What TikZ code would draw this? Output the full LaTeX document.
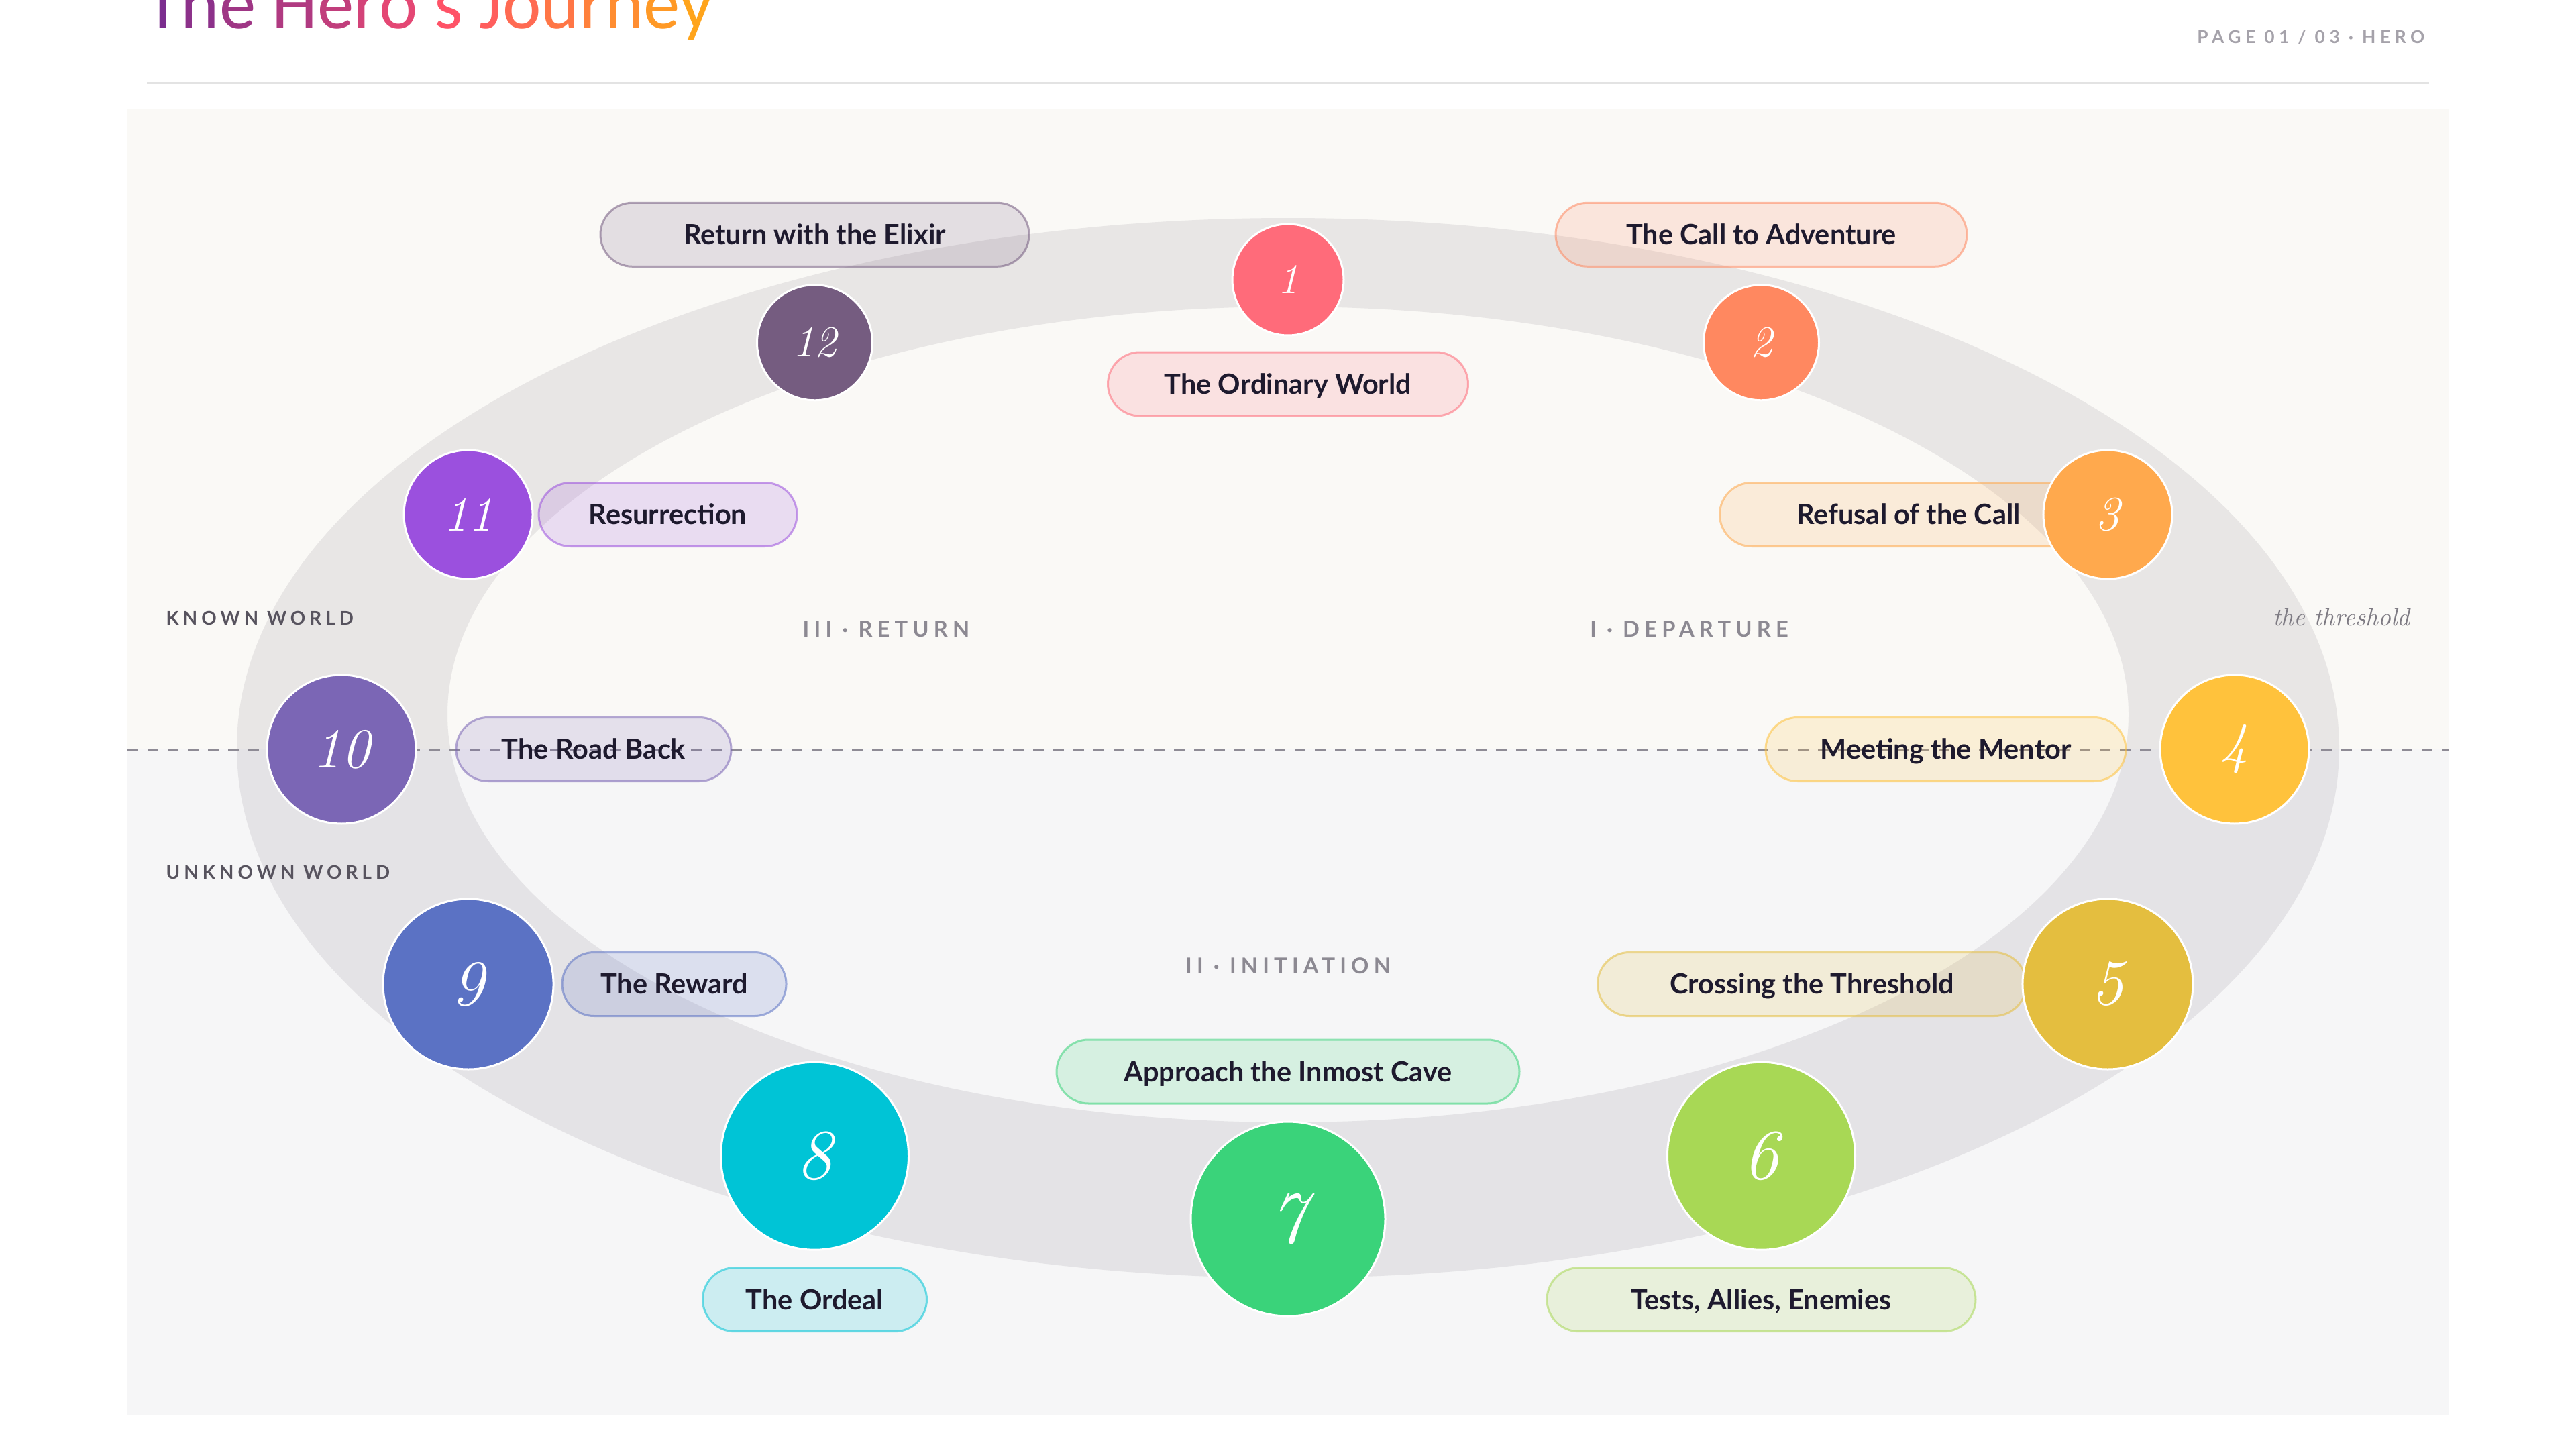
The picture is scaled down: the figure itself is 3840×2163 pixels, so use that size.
\documentclass[tikz,border=0pt]{standalone}
\usepackage{fontspec}
\usepackage{xcolor}
\usepackage{tikz}
\usetikzlibrary{
  positioning,
  calc
}
\newfontfamily\labelfont{Lato}
\newfontfamily\capsfont[LetterSpace=22]{Lato}
\newfontfamily\pagefont[LetterSpace=25]{Lato}
\newfontfamily\titlefont{Carlito}
\definecolor{hjInk}{HTML}{1E1A2E}
\definecolor{hjPaper}{HTML}{FAF9F6}
\definecolor{hjPaperLow}{HTML}{F6F6F7}
\definecolor{hjRule}{HTML}{E3E3E3}
\definecolor{hjDash}{HTML}{8E8B95}
\definecolor{hjMute}{HTML}{57535E}
\definecolor{hjSoft}{HTML}{8C8992}
\definecolor{hjPage}{HTML}{A5A2AA}
\definecolor{hjTrack}{HTML}{2A1E32}
\definecolor{hjPurple}{HTML}{7B2D8E}
\definecolor{hjPink}{HTML}{FF4D6D}
\definecolor{hjAmber}{HTML}{FFA41B}
\definecolor{hjOrdinary}{HTML}{FF6B7A}
\definecolor{hjCall}{HTML}{FF8860}
\definecolor{hjRefusal}{HTML}{FFA94D}
\definecolor{hjMentor}{HTML}{FFC23C}
\definecolor{hjThreshold}{HTML}{E4BE3F}
\definecolor{hjTests}{HTML}{A8D855}
\definecolor{hjCave}{HTML}{3AD37A}
\definecolor{hjOrdeal}{HTML}{00C4D6}
\definecolor{hjReward}{HTML}{5B72C4}
\definecolor{hjRoad}{HTML}{7B66B5}
\definecolor{hjResurrect}{HTML}{9B50DE}
\definecolor{hjElixir}{HTML}{755C80}
\pgfdeclarelayer{back}
\pgfdeclarelayer{pills}
\pgfsetlayers{back,pills,main}
\newcommand{\hjch}[2]{{\color{#1}#2}}
\tikzset{
  stage/.style={
    circle, draw=white, line width=0.3mm, inner sep=0pt, outer sep=0pt,
    text=white
  },
  pill/.style 2 args={
    draw=#1, draw opacity=0.55, fill=#1, fill opacity=0.17, text opacity=1,
    line width=0.3mm, rounded corners=4.75mm, minimum height=9.5mm,
    minimum width=#2, inner sep=0pt, outer sep=0pt, text=hjInk,
    text height=8.5pt, text depth=0pt,
    font=\labelfont\bfseries\fontsize{11.8pt}{11.8pt}\selectfont
  },
  track/.style={fill=hjTrack, fill opacity=0.085},
  divider/.style={hjDash, line width=0.3mm, dash pattern=on 1.6mm off 1.4mm},
  world/.style={font=\capsfont\bfseries\fontsize{7.9pt}{7.9pt}\selectfont, text=hjMute, anchor=west, inner sep=0pt},
  phase/.style={font=\capsfont\bfseries\fontsize{9.3pt}{9.3pt}\selectfont, text=hjSoft, inner sep=0pt},
  note/.style={font=\itshape\fontsize{10.5pt}{10.5pt}\selectfont, text=hjSoft!90!black, inner sep=0pt}
}
\begin{document}
\begin{tikzpicture}[x=0.1mm, y=-0.1mm]
  \useasboundingbox (0,0) rectangle (3840,2163);
  % header
  \begin{scope}
    \clip (0,0) rectangle (3840,2163);
    \node[anchor=base west, inner sep=0pt, font=\titlefont\fontsize{31pt}{31pt}\selectfont] (title) at (216,42)
      {\hjch{hjPurple}{T}\hjch{hjPink!13!hjPurple}{h}\hjch{hjPink!27!hjPurple}{e} \hjch{hjPink!40!hjPurple}{H}\hjch{hjPink!53!hjPurple}{e}\hjch{hjPink!67!hjPurple}{r}\hjch{hjPink!80!hjPurple}{o}\hjch{hjPink!93!hjPurple}{'}\hjch{hjAmber!7!hjPink}{s} \hjch{hjAmber!20!hjPink}{J}\hjch{hjAmber!33!hjPink}{o}\hjch{hjAmber!47!hjPink}{u}\hjch{hjAmber!60!hjPink}{r}\hjch{hjAmber!73!hjPink}{n}\hjch{hjAmber!87!hjPink}{e}\hjch{hjAmber}{y}};
  \end{scope}
  \node[anchor=base east, inner sep=0pt, text=hjPage, font=\pagefont\bfseries\fontsize{7.5pt}{7.5pt}\selectfont] (page) at (3615,64) {PAGE 01 / 03 · HERO};
  \coordinate (ruleL) at (219,123);
  \coordinate (ruleR) at (3621,123);
  \draw[hjRule, line width=0.3mm] (ruleL) -- (ruleR);

  % panel, track and threshold
  \begin{pgfonlayer}{back}
    \fill[hjPaper] (190,162) rectangle (3651,1117);
    \fill[hjPaperLow] (190,1117) rectangle (3651,2109);
    \fill[track, even odd rule] (1920,1115) ellipse [x radius=1567, y radius=790]
      (1920,1065) ellipse [x radius=1253, y radius=608];
    \coordinate (thrL) at (190,1117);
    \coordinate (thrR) at (3651,1117);
    \draw[divider] (thrL) -- (thrR);
  \end{pgfonlayer}

  % stages
  \foreach \i/\ang/\rad/\fs/\col in {
    1/90/83/17.9/hjOrdinary,
    2/60/86/18.6/hjCall,
    3/30/96/20.7/hjRefusal,
    4/0/111/24/hjMentor,
    5/-30/127/27.4/hjThreshold,
    6/-60/140/30.2/hjTests,
    7/-90/145/31.3/hjCave,
    8/-120/140/30.2/hjOrdeal,
    9/-150/127/27.4/hjReward,
    10/180/111/24/hjRoad,
    11/150/96/20.7/hjResurrect,
    12/120/86/18.6/hjElixir}{
    \node[stage, fill=\col, minimum size={2*\rad*0.1mm}, font=\fontsize{\fs}{\fs}\selectfont\itshape]
      (s\i) at ({1920+1411*cos(\ang)}, {1117-700*sin(\ang)}) {\i};
  }

  % stage names
  \begin{pgfonlayer}{pills}
    \node[pill={hjOrdinary}{53.7mm}, below=2.5mm of s1] (l1) {The Ordinary World};
    \node[pill={hjCall}{61.3mm}, above=2.75mm of s2] (l2) {The Call to Adventure};
    \node[pill={hjRefusal}{56.3mm}] (l3) at (2845,767) {Refusal of the Call};
    \node[pill={hjMentor}{53.7mm}, left=5.1mm of s4] (l4) {Meeting the Mentor};
    \node[pill={hjThreshold}{63.9mm}] (l5) at (2701,1467) {Crossing the Threshold};
    \node[pill={hjTests}{63.9mm}, below=2.65mm of s6] (l6) {Tests, Allies, Enemies};
    \node[pill={hjCave}{69mm}, above=2.7mm of s7] (l7) {Approach the Inmost Cave};
    \node[pill={hjOrdeal}{33.4mm}, below=2.65mm of s8] (l8) {The Ordeal};
    \node[pill={hjReward}{33.4mm}, right=1.3mm of s9] (l9) {The Reward};
    \node[pill={hjRoad}{41mm}, right=6mm of s10] (l10) {The Road Back};
    \node[pill={hjResurrect}{38.5mm}, right=0.9mm of s11] (l11) {Resurrection};
    \node[pill={hjElixir}{63.9mm}, above=2.75mm of s12] (l12) {Return with the Elixir};
  \end{pgfonlayer}

  % worlds and acts
  \node[world] (known) at (247,921) {KNOWN WORLD};
  \node[world] (unknown) at (247,1300) {UNKNOWN WORLD};
  \node[phase] (actI) at (2518,938) {I · DEPARTURE};
  \node[phase] (actII) at (1920,1440) {II · INITIATION};
  \node[phase] (actIII) at (1321,938) {III · RETURN};
  \node[note, anchor=east] (thr) at (3593,920) {the threshold};
\end{tikzpicture}
\end{document}
